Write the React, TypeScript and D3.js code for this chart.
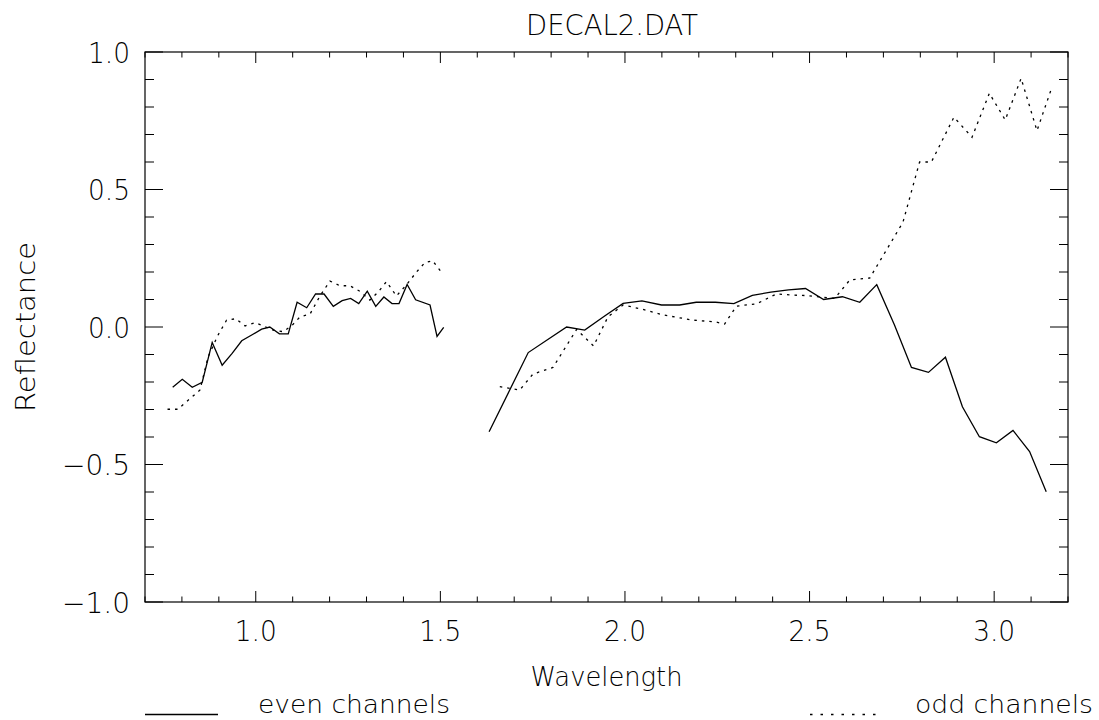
import React from "react";
import * as d3 from "d3";

// title / axis texts
const chartTitle = "DECAL2.DAT";
const xTitle = "Wavelength";
const yTitle = "Reflectance";
const xTickLabels = ["1.0", "1.5", "2.0", "2.5", "3.0"];
const xTickValues = [1.0, 1.5, 2.0, 2.5, 3.0];
const yTickLabels = ["1.0", "0.5", "0.0", "\u22120.5", "\u22121.0"];
const yTickValues = [1.0, 0.5, 0.0, -0.5, -1.0];
const legendLabels = ["even channels", "odd channels"];

// even channels (solid), two detector segments
const evenLeftX = [0.775, 0.801, 0.828, 0.855, 0.882, 0.909, 0.936, 0.962, 0.989, 1.016, 1.038, 1.064, 1.088, 1.112, 1.138, 1.162, 1.185, 1.21, 1.234, 1.257, 1.279, 1.302, 1.325, 1.347, 1.369, 1.388, 1.41, 1.433, 1.472, 1.491, 1.509];
const evenLeftY = [-0.219, -0.19, -0.219, -0.201, -0.056, -0.139, -0.096, -0.05, -0.029, -0.008, 0.0, -0.025, -0.025, 0.09, 0.07, 0.12, 0.12, 0.075, 0.096, 0.104, 0.085, 0.13, 0.075, 0.109, 0.085, 0.085, 0.155, 0.099, 0.08, -0.034, -0.001];
const evenRightX = [1.632, 1.738, 1.842, 1.891, 1.945, 1.995, 2.046, 2.099, 2.148, 2.193, 2.245, 2.295, 2.345, 2.395, 2.443, 2.489, 2.538, 2.589, 2.636, 2.682, 2.73, 2.776, 2.822, 2.868, 2.914, 2.96, 3.006, 3.051, 3.096, 3.141];
const evenRightY = [-0.381, -0.093, 0.0, -0.011, 0.04, 0.086, 0.095, 0.08, 0.08, 0.09, 0.09, 0.085, 0.115, 0.127, 0.135, 0.14, 0.1, 0.11, 0.09, 0.154, 0.007, -0.147, -0.165, -0.11, -0.29, -0.399, -0.421, -0.376, -0.453, -0.599];

// odd channels (dotted)
const oddLeftX = [0.761, 0.789, 0.831, 0.849, 0.871, 0.898, 0.921, 0.946, 0.971, 0.998, 1.02, 1.047, 1.074, 1.097, 1.12, 1.147, 1.174, 1.201, 1.228, 1.255, 1.282, 1.309, 1.332, 1.354, 1.381, 1.408, 1.436, 1.458, 1.479, 1.5];
const oddLeftY = [-0.299, -0.299, -0.25, -0.229, -0.108, -0.029, 0.025, 0.03, 0.004, 0.016, 0.004, -0.011, -0.017, 0.004, 0.037, 0.047, 0.113, 0.167, 0.15, 0.15, 0.13, 0.098, 0.128, 0.165, 0.113, 0.153, 0.201, 0.234, 0.241, 0.204];
const oddRightX = [1.661, 1.715, 1.751, 1.805, 1.869, 1.915, 1.954, 1.995, 2.049, 2.103, 2.184, 2.243, 2.27, 2.302, 2.356, 2.41, 2.455, 2.496, 2.568, 2.609, 2.663, 2.753, 2.798, 2.83, 2.891, 2.94, 2.987, 3.03, 3.073, 3.116, 3.157];
const oddRightY = [-0.217, -0.229, -0.171, -0.147, -0.009, -0.069, 0.037, 0.08, 0.064, 0.044, 0.025, 0.019, 0.011, 0.076, 0.084, 0.12, 0.116, 0.114, 0.104, 0.171, 0.178, 0.381, 0.6, 0.6, 0.763, 0.69, 0.85, 0.753, 0.904, 0.714, 0.874];

type Pt = [number, number];
const zip = (xs: number[], ys: number[]): Pt[] => xs.map((x, i) => [x, ys[i]]);

const W = 1099;
const H = 720;
const margin = { left: 145, right: 31, top: 52, bottom: 118 };
const FONT = "'DejaVu Sans', sans-serif";

const App = () => {
  const x = d3.scaleLinear().domain([0.7, 3.2]).range([margin.left, W - margin.right]);
  const y = d3.scaleLinear().domain([-1, 1]).range([H - margin.bottom, margin.top]);
  const line = d3
    .line<Pt>()
    .x((d) => x(d[0]))
    .y((d) => y(d[1]));

  const x0 = margin.left;
  const x1 = W - margin.right;
  const y0 = H - margin.bottom;
  const y1 = margin.top;

  const xMinor = x.ticks(25);
  const yMinor = y.ticks(20);
  const xLen = 11;
  const yLen = 18;
  const legendY = 712.5;

  const txt = {
    fontFamily: FONT,
    fontWeight: 200,
    fill: "#000",
  } as const;

  return (
    <svg width={W} height={H} style={{ position: "absolute", left: 0, top: 0, background: "#fff" }}>
      <text {...txt} x={612} y={35} fontSize={29} textAnchor="middle" textLength={172} lengthAdjust="spacingAndGlyphs">
        {chartTitle}
      </text>

      {/* frame */}
      <rect x={x0} y={y1} width={x1 - x0} height={y0 - y1} fill="none" stroke="#000" strokeWidth={1.2} />

      {/* ticks on all four sides, IDL style */}
      {xMinor.map((t, i) => {
        const major = xTickValues.some((v) => Math.abs(v - t) < 1e-6);
        const len = major ? xLen : xLen / 2;
        return (
          <g key={"xt" + i} stroke="#000" strokeWidth={1}>
            <line x1={x(t)} x2={x(t)} y1={y0} y2={y0 - len} />
            <line x1={x(t)} x2={x(t)} y1={y1} y2={y1 + len} />
          </g>
        );
      })}
      {yMinor.map((t, i) => {
        const major = yTickValues.some((v) => Math.abs(v - t) < 1e-6);
        const len = major ? yLen : yLen / 2;
        return (
          <g key={"yt" + i} stroke="#000" strokeWidth={1}>
            <line x1={x0} x2={x0 + len} y1={y(t)} y2={y(t)} />
            <line x1={x1} x2={x1 - len} y1={y(t)} y2={y(t)} />
          </g>
        );
      })}

      {xTickValues.map((v, i) => (
        <text key={"xl" + i} {...txt} x={x(v)} y={641} fontSize={28} textAnchor="middle" textLength={42} lengthAdjust="spacingAndGlyphs">
          {xTickLabels[i]}
        </text>
      ))}
      {yTickValues.map((v, i) => (
        <text
          key={"yl" + i}
          {...txt}
          x={130}
          y={y(v) + 10.5}
          fontSize={28}
          textAnchor="end"
          textLength={yTickLabels[i].length > 3 ? 68 : 42}
          lengthAdjust="spacingAndGlyphs"
        >
          {yTickLabels[i]}
        </text>
      ))}

      <text {...txt} x={(x0 + x1) / 2} y={686} fontSize={27} textAnchor="middle" textLength={152} lengthAdjust="spacingAndGlyphs">
        {xTitle}
      </text>
      <text
        {...txt}
        transform={`translate(35,${(y0 + y1) / 2}) rotate(-90)`}
        fontSize={27}
        textAnchor="middle"
        textLength={170}
        lengthAdjust="spacingAndGlyphs"
      >
        {yTitle}
      </text>

      {/* data */}
      <g fill="none" stroke="#000" strokeWidth={1.3}>
        <path d={line(zip(evenLeftX, evenLeftY)) || ""} />
        <path d={line(zip(evenRightX, evenRightY)) || ""} />
      </g>
      <g fill="none" stroke="#000" strokeWidth={1.3} strokeDasharray="2.5,5">
        <path d={line(zip(oddLeftX, oddLeftY)) || ""} />
        <path d={line(zip(oddRightX, oddRightY)) || ""} />
      </g>

      {/* legend */}
      <line x1={145} x2={218} y1={legendY + 2} y2={legendY + 2} stroke="#000" strokeWidth={1.3} />
      <text {...txt} x={258} y={legendY} fontSize={24} textLength={192} lengthAdjust="spacingAndGlyphs">
        {legendLabels[0]}
      </text>
      <line x1={810} x2={882} y1={legendY + 2} y2={legendY + 2} stroke="#000" strokeWidth={1.3} strokeDasharray="2.5,8" />
      <text {...txt} x={915} y={legendY} fontSize={24} textLength={178} lengthAdjust="spacingAndGlyphs">
        {legendLabels[1]}
      </text>
    </svg>
  );
};

export default App;
